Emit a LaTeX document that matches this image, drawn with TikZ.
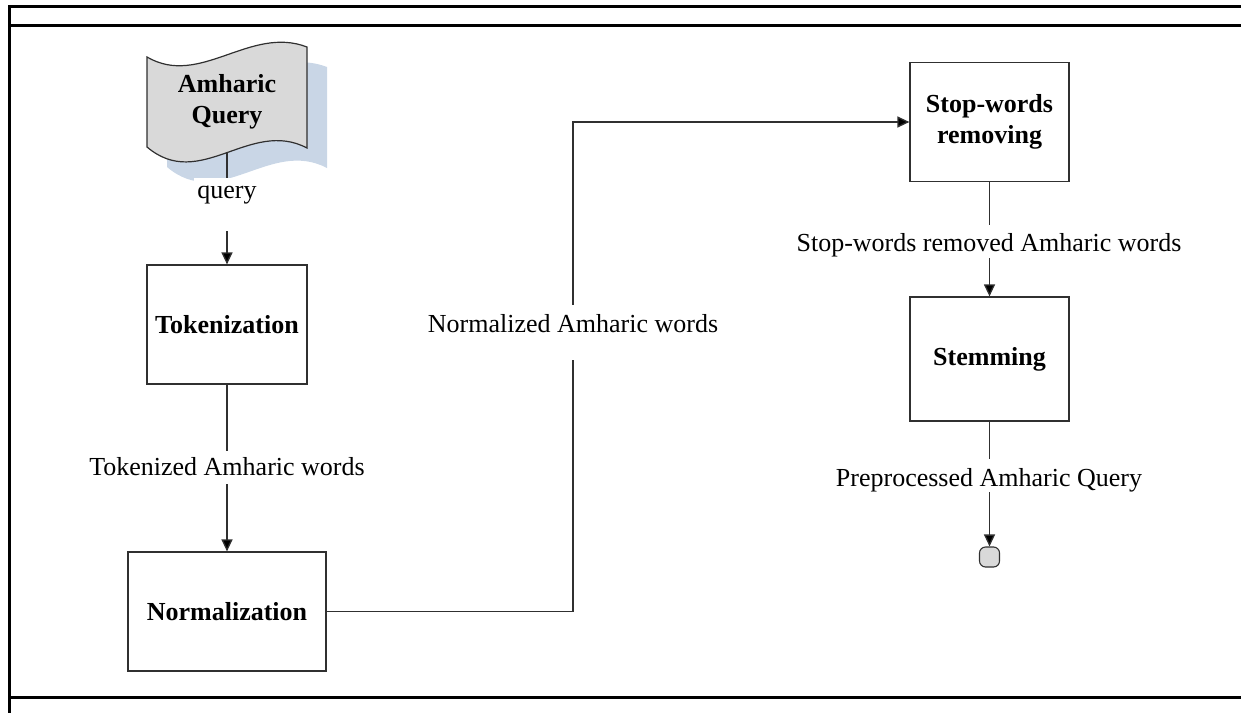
\documentclass[tikz,border=0pt]{standalone}
\usepackage{fontspec}
\setmainfont{Liberation Serif}
\usetikzlibrary{arrows.meta}
\definecolor{shadowblue}{HTML}{C9D6E6}
\definecolor{docgray}{HTML}{D9D9D9}
\definecolor{edge}{HTML}{303030}
\begin{document}
\begin{tikzpicture}[x=1pt,y=-1pt,
  bigfont/.style={font=\fontsize{26}{31}\selectfont},
  stepbox/.style={draw=edge, line width=1.2pt, minimum width=#1,
    minimum height=119pt, inner sep=0pt, align=center,
    font=\fontsize{26}{31.5}\selectfont\bfseries},
  flow/.style={draw=edge, line width=1.3pt,
    -{Triangle[length=12pt,width=11pt,fill=black]}},
  lbl/.style={fill=white, inner xsep=3pt, inner ysep=0pt, anchor=base, bigfont},
  frameline/.style={line width=3pt, black}
]
\useasboundingbox (0,0) rectangle (1241,712);

% outer frame
\draw[frameline] (9,714) -- (9,6) -- (1245,6);
\draw[frameline] (9,25) -- (1245,25);
\draw[frameline] (9,697) -- (1245,697);

% query document with its shadow
\begin{scope}[shift={(20,20)}]
  \fill[shadowblue] (147,57) .. controls (200,88) and (250,25) .. (307,47)
    -- (307,148) .. controls (250,118) and (200,192) .. (147,147) -- cycle;
\end{scope}
\filldraw[fill=docgray, draw=edge, line width=1.2pt]
  (147,57) .. controls (200,88) and (250,25) .. (307,47)
  -- (307,148) .. controls (250,118) and (200,192) .. (147,147) -- cycle;
\node[align=center, font=\fontsize{26}{31}\selectfont\bfseries] (doc) at (227,102) {Amharic\\Query};
\coordinate (docbot) at (227,153);

% processing steps
\node[stepbox=160pt] (tok) at (227,324.5) {Tokenization};
\node[stepbox=198pt] (norm) at (227,611.5) {Normalization};
\node[stepbox=159pt] (stop) at (989.5,122) {Stop-words\\removing};
\node[stepbox=159pt, minimum height=124pt] (stem) at (989.5,359) {Stemming};
\node[draw=edge, fill=docgray, line width=1.1pt, rounded corners=6pt,
  minimum width=20pt, minimum height=20pt, inner sep=0pt] (finish) at (989.5,557) {};
\coordinate (bend) at (573,366);

% connectors
\draw[flow] (docbot) -- (tok.north);
\draw[flow] (tok.south) -- (norm.north);
\draw[flow] (norm.east) -| (bend) |- (stop.west);
\draw[flow] (stop.south) -- (stem.north);
\draw[flow] (stem.south) -- (finish.north);

% connector labels
\node[lbl, text height=20pt, text depth=33pt] (lquery) at (227,198) {query};
\node[lbl, text height=24pt, text depth=9pt] (ltok) at (227,475) {Tokenized Amharic words};
\node[lbl, text height=27pt, text depth=28pt] (lnorm) at (573,332) {Normalized Amharic words};
\node[lbl, text height=26pt, text depth=7pt] (lstop) at (989,251) {Stop-words removed Amharic words};
\node[lbl, text height=27pt, text depth=6pt] (lstem) at (989,486) {Preprocessed Amharic Query};
\end{tikzpicture}
\end{document}
